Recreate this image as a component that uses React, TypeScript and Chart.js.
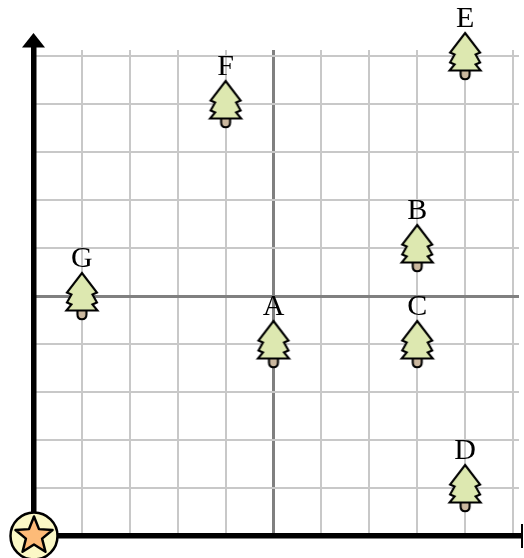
import React, { useEffect, useRef } from "react";
import { Chart, registerables } from "chart.js";

Chart.register(...registerables);

const treeLabels = ["A", "B", "C", "D", "E", "F", "G"];
const treeX = [5, 8, 8, 9, 9, 4, 1];
const treeY = [4, 6, 4, 1, 10, 9, 5];
const originX = [0];
const originY = [0];
const axisMin = 0;
const axisMax = 10;
const midValue = 5;

function makeTree() {
  const c = document.createElement("canvas");
  c.width = 48;
  c.height = 60;
  const g = c.getContext("2d")!;
  g.translate(24, 30);
  g.lineJoin = "miter";
  g.miterLimit = 3;
  g.lineWidth = 2.1;
  g.strokeStyle = "#000";
  // trunk
  g.fillStyle = "#cbb89f";
  g.beginPath();
  g.moveTo(-4.5, 14);
  g.lineTo(-4.5, 18.5);
  g.quadraticCurveTo(-4.5, 23.2, 0, 23.2);
  g.quadraticCurveTo(4.5, 23.2, 4.5, 18.5);
  g.lineTo(4.5, 14);
  g.closePath();
  g.fill();
  g.stroke();
  // foliage
  g.fillStyle = "#dde8b0";
  g.beginPath();
  const pts: [number, number][] = [
    [0, -23], [15, -3.5], [10.5, -1.5], [15, 6.5], [10.5, 8.5], [15.5, 14.5], [-15.5, 14.5], [-10.5, 8.5], [-15, 6.5], [-10.5, -1.5], [-15, -3.5],
  ];
  pts.forEach(([x, y], i) => (i ? g.lineTo(x, y) : g.moveTo(x, y)));
  g.closePath();
  g.fill();
  g.stroke();
  return c;
}

function makeStar() {
  const c = document.createElement("canvas");
  c.width = 54;
  c.height = 54;
  const g = c.getContext("2d")!;
  g.translate(27, 27);
  g.lineWidth = 2.5;
  g.strokeStyle = "#000";
  g.fillStyle = "#fbf8c6";
  g.beginPath();
  g.arc(0, 0, 23.5, 0, Math.PI * 2);
  g.fill();
  g.stroke();
  g.fillStyle = "#fdbb78";
  g.lineJoin = "round";
  g.beginPath();
  for (let i = 0; i < 10; i++) {
    const r = i % 2 ? 8.5 : 19.5;
    const a = -Math.PI / 2 + (i * Math.PI) / 5;
    const x = r * Math.cos(a);
    const y = r * Math.sin(a);
    i ? g.lineTo(x, y) : g.moveTo(x, y);
  }
  g.closePath();
  g.fill();
  g.stroke();
  return c;
}

const axesPlugin = {
  id: "axesPlugin",
  beforeDatasetsDraw(chart: any) {
    const { ctx, scales } = chart;
    const x0 = scales.x.getPixelForValue(0);
    const y0 = scales.y.getPixelForValue(0);
    const top = 47;
    const right = 522;
    ctx.save();
    ctx.fillStyle = "#000";
    ctx.fillRect(x0 - 3, top, 5.5, y0 - top);
    ctx.fillRect(x0, y0 - 3, right - x0, 5.5);
    ctx.fillRect(right - 1, y0 - 12, 2, 24);
    ctx.beginPath();
    ctx.moveTo(x0 - 0.5, 33);
    ctx.lineTo(x0 + 11, 47.5);
    ctx.lineTo(x0 - 12, 47.5);
    ctx.closePath();
    ctx.fill();
    ctx.restore();
  },
  afterDatasetsDraw(chart: any) {
    const { ctx } = chart;
    const meta = chart.getDatasetMeta(0);
    ctx.save();
    ctx.fillStyle = "#000";
    ctx.font = '30px "Liberation Serif"';
    ctx.textAlign = "center";
    ctx.textBaseline = "alphabetic";
    treeLabels.forEach((t, i) => {
      const p = meta.data[i];
      ctx.fillText(t, p.x, p.y - 29);
    });
    ctx.restore();
  },
};

const gridColor = (ctx: any) => (ctx.tick && ctx.tick.value === midValue ? "#808080" : "#c8c8c8");
const gridWidth = (ctx: any) => (ctx.tick && ctx.tick.value === midValue ? 3 : 2);

export default function App() {
  const ref = useRef<HTMLCanvasElement>(null);
  useEffect(() => {
    const chart = new Chart(ref.current!, {
      type: "scatter",
      data: {
        datasets: [
          {
            data: treeX.map((x, i) => ({ x, y: treeY[i] })),
            pointStyle: makeTree() as any,
            pointRadius: 10,
            clip: false as any,
          },
          {
            data: originX.map((x, i) => ({ x, y: originY[i] })),
            pointStyle: makeStar() as any,
            pointRadius: 10,
            clip: false as any,
          },
        ],
      },
      options: {
        responsive: false,
        animation: false,
        layout: { padding: { left: 34, top: 50, right: 4, bottom: 22 } },
        plugins: { legend: { display: false }, tooltip: { enabled: false } },
        scales: {
          x: {
            type: "linear",
            position: "top",
            min: axisMin,
            max: axisMax,
            ticks: { display: false, stepSize: 1 },
            border: { display: false },
            grid: { color: gridColor, lineWidth: gridWidth, tickLength: 6, drawTicks: true, tickColor: gridColor, tickWidth: gridWidth } as any,
          },
          y: {
            type: "linear",
            position: "right",
            min: axisMin,
            max: axisMax,
            ticks: { display: false, stepSize: 1 },
            border: { display: false },
            grid: { color: gridColor, lineWidth: gridWidth, tickLength: 6, drawTicks: true, tickColor: gridColor, tickWidth: gridWidth } as any,
          },
        },
      },
      plugins: [axesPlugin],
    });
    return () => chart.destroy();
  }, []);
  return (
    <canvas
      ref={ref}
      width={524}
      height={558}
      style={{ position: "absolute", left: 0, top: 0, display: "block", width: 524, height: 558 }}
    />
  );
}
